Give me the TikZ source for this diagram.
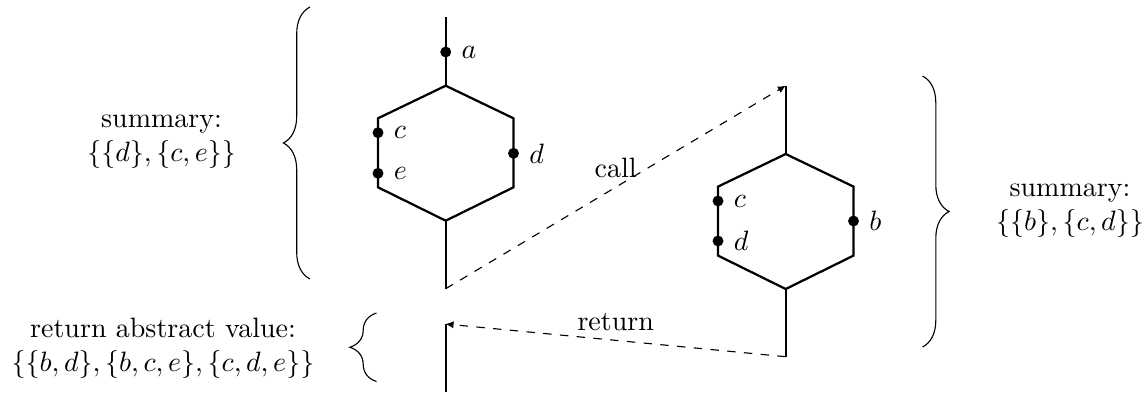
\documentclass[tikz,border=0pt]{standalone}
\usetikzlibrary{arrows.meta,decorations.pathreplacing}
\tikzset{
  solidline/.style={line width=0.8pt},
  dot/.style={circle,fill=black,inner sep=0pt,minimum size=3.9pt},
  lab/.style={anchor=west,inner sep=0pt,xshift=5.5pt},
  flow/.style={dashed,line width=0.4pt,-{Latex[length=2.8pt,width=2.6pt]}},
  bracedeco/.style={decorate,decoration={brace,amplitude=9.5pt},line width=0.4pt},
  info/.style={align=center,inner sep=0pt}
}
\begin{document}
\begin{tikzpicture}[x=0.35714pt,y=-0.35714pt]
\useasboundingbox (0,0) rectangle (1148,392);
% left procedure
\coordinate (ltop) at (445.7,17.3);
\coordinate (lhT) at (445.7,85.7);
\coordinate (lhUL) at (378,118.3);
\coordinate (lhLL) at (378,187.3);
\coordinate (lhB) at (445.7,220.7);
\coordinate (lhLR) at (513.5,187.3);
\coordinate (lhUR) at (513.5,118.3);
\coordinate (lbot) at (445.7,288.7);
\draw[solidline] (ltop) -- (lhT);
\draw[solidline] (lhT) -- (lhUL) -- (lhLL) -- (lhB) -- (lhLR) -- (lhUR) -- cycle;
\draw[solidline] (lhB) -- (lbot);
\node[dot] (a) at (445.7,52) {};
\node[dot] (c1) at (378,132.7) {};
\node[dot] (e1) at (378,173.3) {};
\node[dot] (d1) at (513.5,153.3) {};
\node[lab] (la) at (a) {$a$};
\node[lab] (lc1) at (c1) {$c$};
\node[lab] (le1) at (e1) {$e$};
\node[lab] (ld1) at (d1) {$d$};
% return continuation
\coordinate (lret) at (445.7,324);
\coordinate (lend) at (445.7,392);
\draw[solidline] (lret) -- (lend);
% right procedure
\coordinate (rtop) at (785.7,85.7);
\coordinate (rhT) at (785.7,154);
\coordinate (rhUL) at (718,186.6);
\coordinate (rhLL) at (718,255.6);
\coordinate (rhB) at (785.7,289);
\coordinate (rhLR) at (853.5,255.6);
\coordinate (rhUR) at (853.5,186.6);
\coordinate (rbot) at (785.7,356.7);
\draw[solidline] (rtop) -- (rhT);
\draw[solidline] (rhT) -- (rhUL) -- (rhLL) -- (rhB) -- (rhLR) -- (rhUR) -- cycle;
\draw[solidline] (rhB) -- (rbot);
\node[dot] (c2) at (718,201) {};
\node[dot] (d2) at (718,241) {};
\node[dot] (b2) at (853.5,221) {};
\node[lab] (lc2) at (c2) {$c$};
\node[lab] (ld2) at (d2) {$d$};
\node[lab] (lb2) at (b2) {$b$};
% call / return
\draw[flow] (lbot) -- node[midway,above] (call) {call} (rtop);
\draw[flow] (rbot) -- node[midway,above] (ret) {return} (lret);
% braces
\coordinate (b1s) at (310,279);
\coordinate (b1e) at (310,7);
\draw[bracedeco] (b1s) -- (b1e);
\coordinate (b2s) at (376.5,381.5);
\coordinate (b2e) at (376.5,313);
\draw[bracedeco] (b2s) -- (b2e);
\coordinate (b3s) at (922.5,76);
\coordinate (b3e) at (922.5,347);
\draw[bracedeco] (b3s) -- (b3e);
% summaries
\node[info] (sum1) at (161.6,142) {summary:\\$\{\{d\},\{c,e\}\}$};
\node[info] (retval) at (163,348) {return abstract value:\\$\{\{b,d\},\{b,c,e\},\{c,d,e\}\}$};
\node[info] (sum2) at (1070,211) {summary:\\$\{\{b\},\{c,d\}\}$};
\end{tikzpicture}
\end{document}
